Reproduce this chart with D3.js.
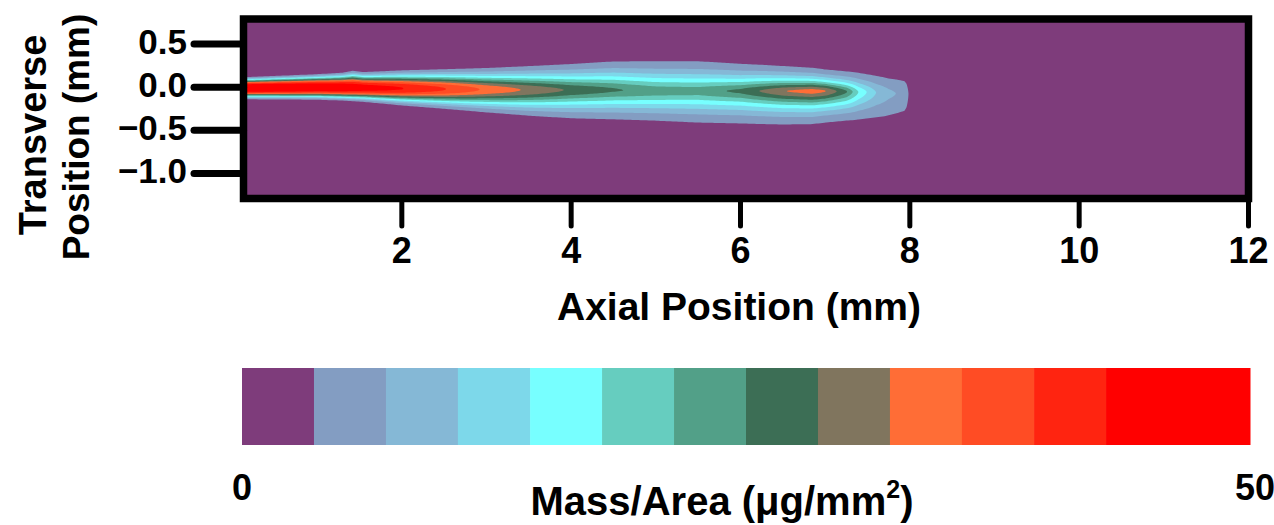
<!DOCTYPE html>
<html>
<head>
<meta charset="utf-8">
<script src="https://cdn.jsdelivr.net/npm/d3@7/dist/d3.min.js"></script>
<style>
  html, body { margin: 0; padding: 0; background: #fff; }
  svg text { font-family: "Liberation Sans", Arial, sans-serif; font-weight: bold; fill: #000; }
</style>
</head>
<body>
<svg id="chart" width="1274" height="525"></svg>
<script>
// ---------------- data ----------------
// Contour levels of Mass/Area (µg/mm²); colour i is used for values >= levels[i-1]
const colorbarMin = 0;
const colorbarMax = 50;
const levels = [3.57, 7.14, 10.71, 14.29, 17.86, 21.43, 25, 28.57, 32.14, 35.71, 39.29, 42.86];
const levelColors = ["#7E3C7B", "#839DC2", "#85B8D6", "#7DD8EA", "#77FFFF", "#66CDBF",
                     "#52A088", "#3C6E55", "#80755E", "#FF6D36", "#FF4C24", "#FF2410", "#FF0000"];

// Spray plume read at axial stations (mm)
const axialStations = [0.13, 1.0, 1.3, 1.42, 1.55, 2.0, 2.5, 3.0, 3.5, 4.0, 4.5, 5.0, 5.5, 6.0, 6.5, 6.85, 7.0, 7.25, 7.4, 7.5, 7.6, 7.75, 7.95, 8.02];
// transverse position of the plume centre (mm)
const centerLine   = [-0.009, -0.003, -0.006, -0.008, -0.009, -0.015, -0.021, -0.027, -0.032, -0.032, -0.032, -0.044, -0.044, -0.044, -0.044, -0.044, -0.044, -0.050, -0.056, -0.056, -0.061, -0.067, -0.079, -0.079];
// upper and lower edge of the outer (lowest level) contour (mm)
const outerTop     = [0.115, 0.150, 0.168, 0.190, 0.175, 0.195, 0.208, 0.222, 0.244, 0.268, 0.298, 0.300, 0.300, 0.270, 0.245, 0.225, 0.205, 0.182, 0.165, 0.148, 0.130, 0.100, 0.065, 0.065];
const outerBottom  = [-0.140, -0.145, -0.155, -0.162, -0.170, -0.212, -0.250, -0.292, -0.330, -0.360, -0.372, -0.388, -0.410, -0.420, -0.432, -0.428, -0.410, -0.386, -0.372, -0.360, -0.348, -0.325, -0.268, -0.268];
// centreline (peak) Mass/Area (µg/mm²)
const peakValues   = [48, 46, 45.5, 45, 44.5, 43, 39.5, 35, 31.5, 28, 25.5, 23.5, 23.2, 26, 32, 34, 32.5, 25.5, 17.5, 14, 10.7, 8, 6, 1];
// flatness of the transverse profile (larger = flatter top)
const profileShape = [3, 3, 2.9, 2.8, 2.7, 2.4, 2.2, 2.0, 1.85, 1.7, 1.65, 1.6, 1.55, 1.5, 1.5, 1.5, 1.5, 1.5, 1.5, 1.5, 1.5, 1.5, 1.5, 1.5];

const xTicks = [2, 4, 6, 8, 10, 12];
const yTicks = [0.5, 0.0, -0.5, -1.0];
const xDomain = [0.13, 12];
const yDomain = [-1.29, 0.79];

// ---------------- layout ----------------
const svg = d3.select("#chart");
const plot = { left: 243.5, right: 1248.5, top: 19, bottom: 198.5 };
const x = d3.scaleLinear().domain(xDomain).range([plot.left, plot.right]);
const y = d3.scaleLinear().domain(yDomain).range([plot.bottom, plot.top]);

// ---------------- field reconstruction ----------------
const lowest = levels[0];
const sUp = [], sDown = [];
for (let i = 0; i < axialStations.length; i++) {
  const P = peakValues[i], k = profileShape[i];
  if (P > lowest) {
    const f = Math.pow(Math.log(P / lowest), 1 / k);
    sUp.push((outerTop[i] - centerLine[i]) / f);
    sDown.push((centerLine[i] - outerBottom[i]) / f);
  } else {
    sUp.push(sUp[i - 1]);
    sDown.push(sDown[i - 1]);
  }
}
function lerpAt(arr, xm) {
  const n = axialStations.length;
  if (xm <= axialStations[0]) return arr[0];
  if (xm >= axialStations[n - 1]) return arr[n - 1];
  const j = d3.bisectRight(axialStations, xm);
  const t = (xm - axialStations[j - 1]) / (axialStations[j] - axialStations[j - 1]);
  return arr[j - 1] + t * (arr[j] - arr[j - 1]);
}
function fieldValue(xm, ym) {
  if (xm > axialStations[axialStations.length - 1]) return 0;
  const P = lerpAt(peakValues, xm);
  const c = lerpAt(centerLine, xm);
  const k = lerpAt(profileShape, xm);
  const d = ym - c;
  const s = d >= 0 ? lerpAt(sUp, xm) : lerpAt(sDown, xm);
  return P * Math.exp(-Math.pow(Math.abs(d) / s, k));
}

const cw = 2, ch = 1;
const nx = Math.ceil((plot.right - plot.left) / cw);
const ny = Math.ceil((plot.bottom - plot.top) / ch);
const values = new Float64Array(nx * ny);
for (let j = 0; j < ny; j++) {
  const ym = y.invert(plot.top + (j + 0.5) * ch);
  for (let i = 0; i < nx; i++) {
    const xm = x.invert(plot.left + (i + 0.5) * cw);
    values[j * nx + i] = fieldValue(xm, ym);
  }
}
const contours = d3.contours().size([nx, ny]).thresholds(levels)(values);
const proj = d3.geoTransform({
  point: function (gx, gy) { this.stream.point(plot.left + gx * cw, plot.top + gy * ch); }
});
const path = d3.geoPath(proj);

// clip
svg.append("defs").append("clipPath").attr("id", "plotClip")
  .append("rect").attr("x", plot.left).attr("y", plot.top)
  .attr("width", plot.right - plot.left).attr("height", plot.bottom - plot.top);

const g = svg.append("g").attr("clip-path", "url(#plotClip)");
g.append("rect").attr("x", plot.left).attr("y", plot.top)
  .attr("width", plot.right - plot.left).attr("height", plot.bottom - plot.top)
  .attr("fill", levelColors[0]);
g.selectAll("path.band").data(contours).join("path")
  .attr("class", "band")
  .attr("d", path)
  .attr("fill", (d, i) => levelColors[i + 1]);

// ---------------- axes ----------------
// y ticks
svg.selectAll("line.ytick").data(yTicks).join("line")
  .attr("x1", 194).attr("x2", plot.left)
  .attr("y1", d => y(d)).attr("y2", d => y(d))
  .attr("stroke", "#000").attr("stroke-width", 7).attr("stroke-linecap", "round");
svg.selectAll("text.ylab").data(yTicks).join("text")
  .attr("x", 187).attr("y", d => y(d) + 10)
  .attr("text-anchor", "end").attr("font-size", 35)
  .text(d => d3.format(".1f")(d));

// x ticks
svg.selectAll("line.xtick").data(xTicks).join("line")
  .attr("x1", d => x(d)).attr("x2", d => x(d))
  .attr("y1", plot.bottom).attr("y2", 226)
  .attr("stroke", "#000").attr("stroke-width", 5).attr("stroke-linecap", "round");
svg.selectAll("text.xlab").data(xTicks).join("text")
  .attr("x", d => x(d)).attr("y", 263)
  .attr("text-anchor", "middle").attr("font-size", 36)
  .text(d => d);

// frame
svg.append("rect").attr("x", plot.left).attr("y", plot.top)
  .attr("width", plot.right - plot.left).attr("height", plot.bottom - plot.top)
  .attr("fill", "none").attr("stroke", "#000").attr("stroke-width", 7.5);

// axis titles
svg.append("text").attr("x", 739).attr("y", 320).attr("text-anchor", "middle")
  .attr("font-size", 39).text("Axial Position (mm)");
svg.append("text").attr("transform", "translate(46,135) rotate(-90)")
  .attr("text-anchor", "middle").attr("font-size", 38).text("Transverse");
svg.append("text").attr("transform", "translate(89,137) rotate(-90)")
  .attr("text-anchor", "middle").attr("font-size", 37).text("Position (mm)");

// ---------------- colorbar ----------------
const cb = d3.scaleLinear().domain([colorbarMin, colorbarMax]).range([242, 1250]);
const bounds = [colorbarMin, ...levels, colorbarMax];
svg.selectAll("rect.cb").data(levelColors).join("rect")
  .attr("class", "cb")
  .attr("x", (d, i) => cb(bounds[i]))
  .attr("width", (d, i) => cb(bounds[i + 1]) - cb(bounds[i]) + 0.5)
  .attr("y", 368).attr("height", 77)
  .attr("fill", d => d);

svg.append("text").attr("x", cb(colorbarMin)).attr("y", 500).attr("text-anchor", "middle")
  .attr("font-size", 36).text(colorbarMin);
svg.append("text").attr("x", cb(colorbarMax) + 5).attr("y", 500).attr("text-anchor", "middle")
  .attr("font-size", 36).text(colorbarMax);

const cbl = svg.append("text").attr("x", 722).attr("y", 515).attr("text-anchor", "middle")
  .attr("font-size", 40);
cbl.append("tspan").text("Mass/Area (\u03BCg/mm");
cbl.append("tspan").attr("font-size", 25).attr("dy", -17).text("2");
cbl.append("tspan").attr("dy", 17).text(")");
</script>
</body>
</html>
